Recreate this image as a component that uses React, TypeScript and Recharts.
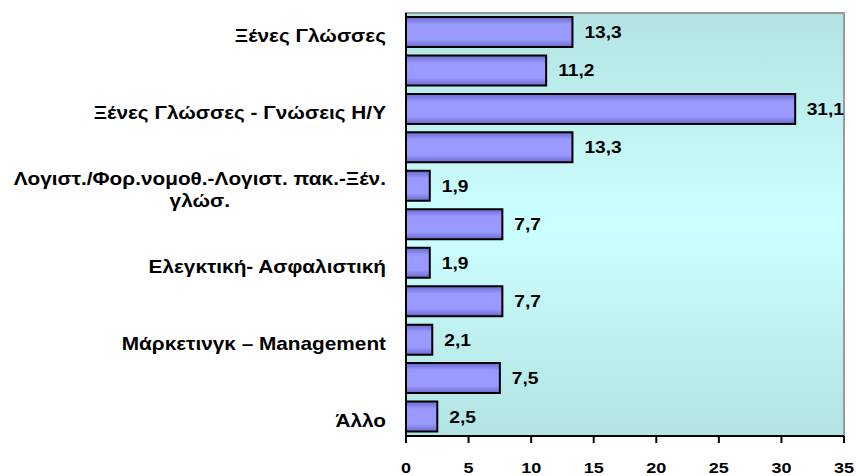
import React from "react";
import { BarChart, Bar, XAxis, YAxis, CartesianGrid, ReferenceArea, LabelList } from "recharts";

const categories = [
  "Ξένες Γλώσσες",
  "",
  "Ξένες Γλώσσες - Γνώσεις Η/Υ",
  "",
  "Λογιστ./Φορ.νομοθ.-Λογιστ. πακ.-Ξέν.\nγλώσ.",
  "",
  "Ελεγκτική- Ασφαλιστική",
  "",
  "Μάρκετινγκ – Management",
  "",
  "Άλλο",
];
const values = [13.3, 11.2, 31.1, 13.3, 1.9, 7.7, 1.9, 7.7, 2.1, 7.5, 2.5];
const xTicks = [0, 5, 10, 15, 20, 25, 30, 35];

const data = categories.map((name, i) => ({ key: "c" + i, name, value: values[i] }));

const FONT = "'Liberation Sans', Arial, sans-serif";

let canvasCtx: CanvasRenderingContext2D | null = null;
function measure(text: string, size: number): number {
  if (!canvasCtx) {
    const c = document.createElement("canvas");
    canvasCtx = c.getContext("2d");
  }
  if (!canvasCtx) return text.length * size * 0.6;
  canvasCtx.font = `bold ${size}px ${FONT}`;
  return canvasCtx.measureText(text).width;
}

const CAT_SIZE = 18;
const CAT_SX = 1.155;
const CatTick = (props: any) => {
  const { x, y, payload } = props;
  const label = categories[payload.index] ?? "";
  if (!label) return null;
  const lines = label.split("\n");
  const right = x - 12;
  if (lines.length === 1) {
    return (
      <text
        transform={`translate(${right},${y + 10}) scale(${CAT_SX},1)`}
        textAnchor="end"
        fontFamily={FONT}
        fontWeight="bold"
        fontSize={CAT_SIZE}
        fill="#000"
      >
        {lines[0]}
      </text>
    );
  }
  const maxW = Math.max(...lines.map((l) => measure(l, CAT_SIZE)));
  const lh = 22;
  const start = 10 - ((lines.length - 1) * lh) / 2;
  return (
    <g transform={`translate(${right},${y}) scale(${CAT_SX},1)`}>
      <text textAnchor="middle" fontFamily={FONT} fontWeight="bold" fontSize={CAT_SIZE} fill="#000">
        {lines.map((l, i) => (
          <tspan key={i} x={-maxW / 2} y={start + i * lh}>
            {l}
          </tspan>
        ))}
      </text>
    </g>
  );
};

const VAL_SIZE = 16;
const VAL_SX = 1.2;
const ValueLabel = (props: any) => {
  const { x, y, width, height, value } = props;
  const text = String(value).replace(".", ",");
  const w = measure(text, VAL_SIZE) * VAL_SX;
  const plotRight = 844;
  let tx = x + width + 12;
  if (tx + w > plotRight) tx = plotRight - w;
  return (
    <text
      transform={`translate(${tx},${y + height / 2 + 6}) scale(${VAL_SX},1)`}
      fontFamily={FONT}
      fontWeight="bold"
      fontSize={VAL_SIZE}
      fill="#000"
    >
      {text}
    </text>
  );
};

const XTick = (props: any) => {
  const { x, y, payload } = props;
  return (
    <text
      transform={`translate(${x},${y + 10.5}) scale(1.2,1)`}
      textAnchor="middle"
      fontFamily={FONT}
      fontWeight="bold"
      fontSize={15}
      fill="#000"
    >
      {payload.value}
    </text>
  );
};

export default function App() {
  return (
    <div style={{ position: "absolute", left: 0, top: 0, width: 856, height: 476, background: "#fff" }}>
      <BarChart
        width={856}
        height={476}
        data={data}
        layout="vertical"
        margin={{ top: 13, right: 12, bottom: 0, left: 0 }}
      >
        <defs>
          <linearGradient id="bgGrad" x1="0" y1="0" x2="0" y2="1">
            <stop offset="0%" stopColor="#b3e3e3" />
            <stop offset="50%" stopColor="#ccffff" />
            <stop offset="100%" stopColor="#b3e3e3" />
          </linearGradient>
          <linearGradient id="barGrad" x1="0" y1="0" x2="0" y2="1">
            <stop offset="0%" stopColor="#6a6acc" />
            <stop offset="25%" stopColor="#9999ff" />
            <stop offset="75%" stopColor="#9999ff" />
            <stop offset="100%" stopColor="#6a6acc" />
          </linearGradient>
        </defs>
        <CartesianGrid horizontal={false} vertical={false} fill="url(#bgGrad)" fillOpacity={1} />
        <ReferenceArea x1={0} x2={35} fill="none" stroke="#9a9a9a" strokeWidth={2} ifOverflow="visible" />
        <XAxis
          type="number"
          domain={[0, 35]}
          ticks={xTicks}
          interval={0}
          height={40}
          axisLine={{ stroke: "#000", strokeWidth: 2 }}
          tickLine={{ stroke: "#000", strokeWidth: 2 }}
          tickSize={7}
          tickMargin={19}
          tick={<XTick />}
        />
        <YAxis
          type="category"
          dataKey="key"
          width={406}
          interval={0}
          axisLine={{ stroke: "#000", strokeWidth: 2 }}
          tickLine={false}
          tick={<CatTick />}
        />
        <Bar dataKey="value" fill="url(#barGrad)" stroke="#000" strokeWidth={2} barSize={30} isAnimationActive={false}>
          <LabelList dataKey="value" content={<ValueLabel />} />
        </Bar>
      </BarChart>
    </div>
  );
}
